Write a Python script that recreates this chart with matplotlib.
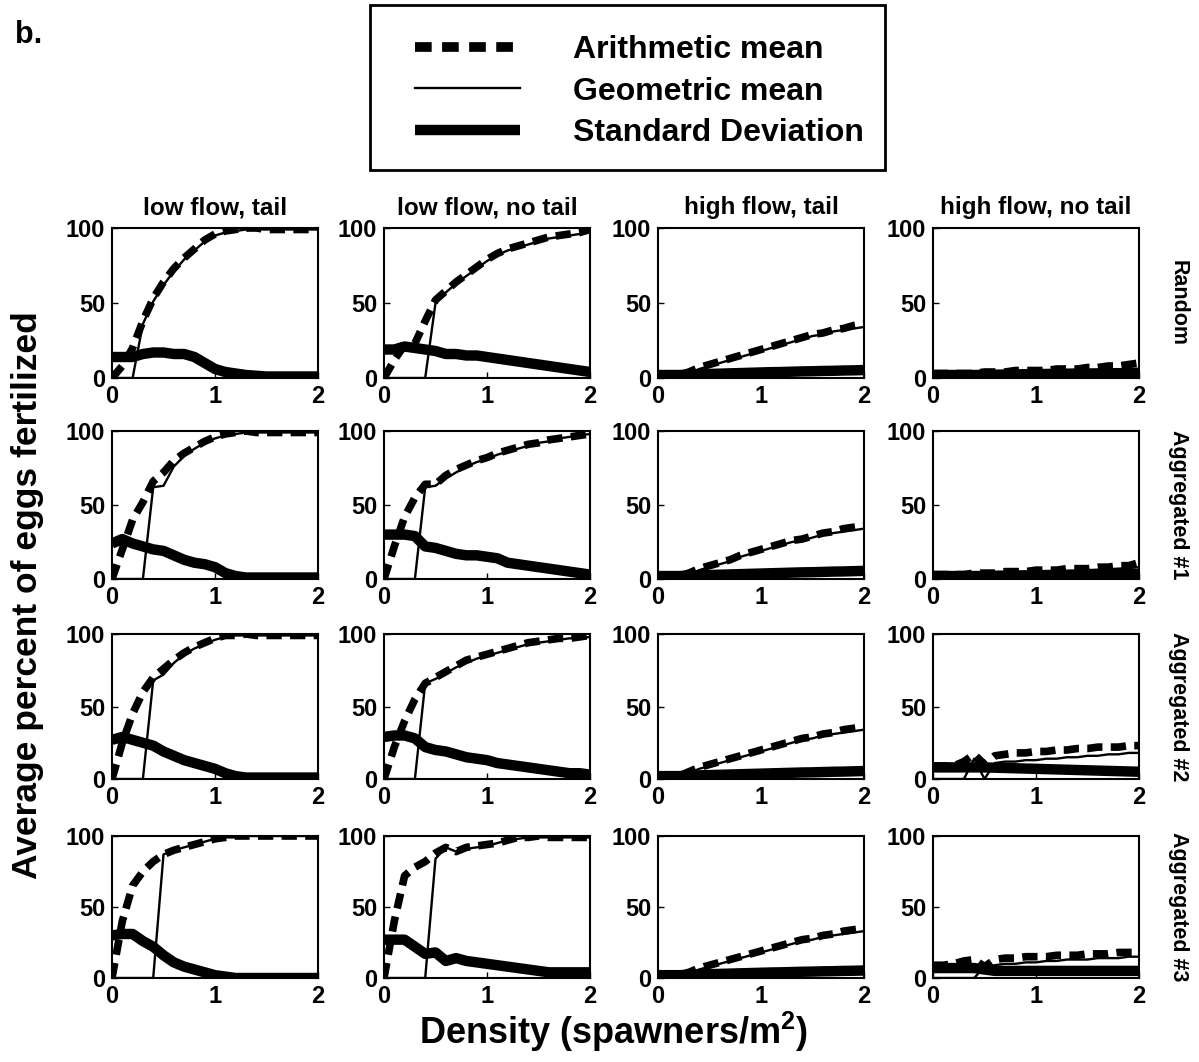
import numpy as np
import matplotlib
matplotlib.use("Agg")
import matplotlib.pyplot as plt
from matplotlib.patches import Rectangle
from matplotlib.lines import Line2D

plt.rcParams['font.family'] = ['Liberation Sans', 'DejaVu Sans']
plt.rcParams['font.weight'] = 'bold'
plt.rcParams['mathtext.fontset'] = 'custom'
plt.rcParams['mathtext.rm'] = 'Liberation Sans:bold'
plt.rcParams['mathtext.default'] = 'rm'
plt.rcParams['lines.scale_dashes'] = False

# Densidad (spawners/m2)
densidad = [0.0, 0.1, 0.2, 0.3, 0.4, 0.5, 0.6, 0.7, 0.8, 0.9, 1.0,
            1.1, 1.2, 1.3, 1.4, 1.5, 1.6, 1.7, 1.8, 1.9, 2.0]

columnas = ["low flow, tail", "low flow, no tail", "high flow, tail", "high flow, no tail"]
filas = ["Random", "Aggregated #1", "Aggregated #2", "Aggregated #3"]
etiquetas = ["Arithmetic mean", "Geometric mean", "Standard Deviation"]

# Random
r_c1_am = [0, 8, 20, 38, 53, 64, 73, 80, 86, 92, 96, 98, 99, 100, 100, 99, 99, 99, 99, 99, 99]
r_c1_gm = [0, 0, 0, 36, 51, 62, 71, 79, 85, 91, 95, 97, 98, 99, 99, 99, 99, 99, 99, 99, 99]
r_c1_sd = [14, 14, 14, 16, 17, 17, 16, 16, 14, 10, 6, 4, 3, 2, 1.5, 1, 1, 1, 1, 1, 1]
r_c2_am = [0, 12, 22, 23, 38, 52, 58, 64, 69, 74, 79, 83, 86, 88, 90, 92, 94, 95, 96, 97, 99]
r_c2_gm = [0, 0, 0, 0, 0, 50, 57, 63, 68, 73, 78, 82, 85, 87, 89, 91, 93, 94, 95, 96, 98]
r_c2_sd = [19, 19, 21, 20, 19, 18, 16, 16, 15, 15, 14, 13, 12, 11, 10, 9, 8, 7, 6, 5, 4]
r_c3_am = [2, 2, 2, 4, 7, 9, 11, 13, 15, 17, 19, 21, 23, 25, 27, 29, 30, 32, 33, 35, 36]
r_c3_gm = [1, 1, 1, 3, 6, 8, 10, 12, 14, 16, 18, 20, 22, 24, 26, 28, 29, 31, 32, 33, 34]
r_c3_sd = [2, 2, 2, 2.2, 2.5, 2.7, 2.9, 3.1, 3.3, 3.5, 3.7, 3.9, 4.0, 4.2, 4.4, 4.5, 4.7, 4.8, 5.0, 5.1, 5.3]
r_c4_am = [3, 3, 3, 3, 3, 4, 4, 4, 5, 5, 5, 5, 6, 6, 6, 7, 7, 8, 8, 9, 10]
r_c4_gm = [2, 2, 2, 2, 2, 2.5, 2.8, 3, 3.2, 3.5, 3.7, 4, 4.2, 4.5, 4.7, 5, 5.2, 5.5, 5.7, 6, 6]
r_c4_sd = [2, 2, 2, 2, 2, 2.1, 2.2, 2.3, 2.4, 2.5, 2.6, 2.7, 2.8, 2.9, 3.0, 3.0, 3.1, 3.2, 3.2, 3.3, 3.4]

# Aggregated #1
a1_c1_am = [0, 20, 40, 52, 66, 72, 80, 85, 89, 93, 96, 98, 99, 100, 99, 99, 99, 99, 99, 99, 99]
a1_c1_gm = [0, 0, 0, 0, 62, 63, 76, 83, 88, 92, 95, 97, 98, 99, 99, 99, 99, 99, 99, 99, 99]
a1_c1_sd = [24, 27, 24, 22, 20, 19, 16, 13, 11, 10, 8, 4, 2, 1, 1, 1, 1, 1, 1, 1, 1]
a1_c2_am = [0, 22, 42, 55, 64, 64, 70, 74, 77, 80, 82, 85, 87, 89, 91, 92, 94, 95, 96, 97, 98]
a1_c2_gm = [0, 0, 0, 0, 62, 63, 68, 72, 76, 79, 81, 84, 86, 88, 90, 92, 93, 95, 96, 97, 98]
a1_c2_sd = [30, 30, 30, 29, 22, 21, 19, 17, 16, 16, 15, 14, 11, 10, 9, 8, 7, 6, 5, 4, 3]
a1_c3_am = [2, 2, 2, 4, 7, 9, 11, 13, 16, 18, 20, 22, 24, 26, 27, 29, 31, 32, 34, 35, 36]
a1_c3_gm = [1, 1, 1, 3, 6, 8, 10, 12, 15, 17, 19, 21, 23, 25, 26, 28, 30, 31, 32, 33, 34]
a1_c3_sd = [2, 2, 2, 2.2, 2.5, 2.7, 2.9, 3.1, 3.3, 3.5, 3.7, 3.9, 4.1, 4.3, 4.5, 4.6, 4.8, 5.0, 5.1, 5.3, 5.5]
a1_c4_am = [3, 3, 3, 3, 4, 4, 4, 5, 5, 5, 6, 6, 6, 7, 7, 7, 8, 8, 9, 9, 11]
a1_c4_gm = [2, 2, 2, 2, 2.5, 2.8, 3, 3.3, 3.6, 4, 4.3, 4.6, 5, 5.3, 5.6, 6, 6.3, 6.6, 7, 7.3, 8]
a1_c4_sd = [2, 2, 2, 2, 2, 2.1, 2.2, 2.3, 2.4, 2.5, 2.6, 2.7, 2.8, 2.9, 3.0, 3.0, 3.1, 3.2, 3.2, 3.3, 3.4]

# Aggregated #2
a2_c1_am = [0, 25, 45, 60, 70, 76, 82, 87, 91, 94, 97, 99, 99, 100, 99, 99, 99, 99, 99, 99, 99]
a2_c1_gm = [0, 0, 0, 0, 68, 72, 80, 86, 90, 93, 96, 98, 99, 99, 99, 99, 99, 99, 99, 99, 99]
a2_c1_sd = [27, 29, 27, 25, 23, 19, 16, 13, 11, 9, 7, 4, 2, 1, 1, 1, 1, 1, 1, 1, 1]
a2_c2_am = [0, 22, 40, 55, 66, 70, 74, 78, 82, 84, 86, 88, 90, 92, 94, 95, 96, 97, 97, 98, 99]
a2_c2_gm = [0, 0, 0, 0, 66, 69, 73, 77, 80, 83, 85, 87, 89, 91, 93, 94, 95, 96, 97, 97, 98]
a2_c2_sd = [29, 30, 30, 28, 22, 20, 19, 17, 15, 14, 13, 11, 10, 9, 8, 7, 6, 5, 4, 4, 3]
a2_c3_am = [2, 2, 2, 5, 8, 10, 12, 14, 16, 18, 20, 22, 24, 26, 28, 29, 31, 32, 34, 35, 36]
a2_c3_gm = [1, 1, 1, 4, 7, 9, 11, 13, 15, 17, 19, 21, 23, 25, 27, 28, 30, 31, 32, 33, 34]
a2_c3_sd = [2, 2, 2, 2.2, 2.5, 2.7, 2.9, 3.1, 3.3, 3.5, 3.7, 3.9, 4.1, 4.3, 4.5, 4.6, 4.8, 5.0, 5.1, 5.3, 5.5]
a2_c4_am = [9, 9, 9, 12, 17, 10, 16, 17, 18, 18, 19, 19, 20, 20, 21, 21, 22, 22, 22, 23, 23]
a2_c4_gm = [0, 0, 0, 0, 14, 0, 11, 12, 12, 13, 13, 14, 14, 15, 15, 16, 16, 17, 17, 18, 18]
a2_c4_sd = [8, 8, 8, 8, 8, 8, 7.8, 7.6, 7.4, 7.2, 7, 6.8, 6.6, 6.4, 6.2, 6, 5.8, 5.6, 5.4, 5.2, 5]

# Aggregated #3
a3_c1_am = [0, 40, 65, 75, 82, 87, 90, 92, 94, 96, 98, 99, 100, 100, 100, 100, 100, 100, 100, 100, 100]
a3_c1_gm = [0, 0, 0, 0, 0, 87, 90, 92, 94, 96, 98, 99, 99, 100, 100, 100, 100, 100, 100, 100, 100]
a3_c1_sd = [30, 31, 31, 26, 22, 16, 11, 8, 6, 4, 2, 1, 0, 0, 0, 0, 0, 0, 0, 0, 0]
a3_c2_am = [0, 40, 72, 78, 82, 88, 92, 89, 92, 93, 94, 95, 97, 99, 99, 100, 99, 99, 99, 99, 99]
a3_c2_gm = [0, 0, 0, 0, 0, 84, 92, 89, 91, 92, 93, 95, 97, 98, 99, 99, 99, 99, 99, 99, 99]
a3_c2_sd = [27, 27, 27, 22, 17, 18, 12, 14, 12, 11, 10, 9, 8, 7, 6, 5, 4, 4, 4, 4, 4]
a3_c3_am = [2, 2, 2, 4, 7, 9, 11, 13, 15, 17, 19, 21, 23, 25, 27, 28, 30, 31, 33, 34, 35]
a3_c3_gm = [1, 1, 1, 3, 6, 8, 10, 12, 14, 16, 18, 20, 22, 24, 26, 27, 29, 30, 31, 32, 33]
a3_c3_sd = [2, 2, 2, 2.2, 2.5, 2.7, 2.9, 3.1, 3.3, 3.5, 3.7, 3.9, 4.0, 4.2, 4.4, 4.5, 4.7, 4.8, 5.0, 5.1, 5.3]
a3_c4_am = [9, 9, 10, 12, 13, 8, 13, 14, 14, 15, 15, 15, 16, 16, 16, 17, 17, 17, 18, 18, 18]
a3_c4_gm = [0, 0, 0, 0, 0, 8, 9, 10, 10, 11, 11, 12, 12, 13, 13, 13, 14, 14, 14, 15, 15]
a3_c4_sd = [7, 7, 7, 7, 7, 6, 5, 5, 5, 5, 5, 5, 5, 5, 5, 5, 5, 5, 5, 5, 5]

paneles = [
    [(r_c1_am, r_c1_gm, r_c1_sd), (r_c2_am, r_c2_gm, r_c2_sd),
     (r_c3_am, r_c3_gm, r_c3_sd), (r_c4_am, r_c4_gm, r_c4_sd)],
    [(a1_c1_am, a1_c1_gm, a1_c1_sd), (a1_c2_am, a1_c2_gm, a1_c2_sd),
     (a1_c3_am, a1_c3_gm, a1_c3_sd), (a1_c4_am, a1_c4_gm, a1_c4_sd)],
    [(a2_c1_am, a2_c1_gm, a2_c1_sd), (a2_c2_am, a2_c2_gm, a2_c2_sd),
     (a2_c3_am, a2_c3_gm, a2_c3_sd), (a2_c4_am, a2_c4_gm, a2_c4_sd)],
    [(a3_c1_am, a3_c1_gm, a3_c1_sd), (a3_c2_am, a3_c2_gm, a3_c2_sd),
     (a3_c3_am, a3_c3_gm, a3_c3_sd), (a3_c4_am, a3_c4_gm, a3_c4_sd)],
]

# Tamano de la figura en pixeles
W, H = 1199, 1062
fig = plt.figure(figsize=(W / 100, H / 100), dpi=100)

# Posiciones de los paneles (pixeles)
izq = [112, 384, 658, 933]
ancho = 206
arriba = [228, 431, 634, 836]
abajo = [378, 579, 779, 978]

for i in range(4):
    for j in range(4):
        rect = [izq[j] / W, 1 - abajo[i] / H, ancho / W, (abajo[i] - arriba[i]) / H]
        ax = fig.add_axes(rect)
        am, gm, sd = paneles[i][j]
        ax.plot(densidad, am, color="black", lw=5.5, ls=(0, (11, 6)), dash_capstyle="butt")
        ax.plot(densidad, gm, color="black", lw=1.7)
        ax.plot(densidad, sd, color="black", lw=7.5, solid_capstyle="butt")
        ax.set_xlim(0, 2)
        ax.set_ylim(0, 100)
        ax.set_xticks([0, 1, 2])
        ax.set_yticks([0, 50, 100])
        ax.tick_params(direction="in", length=4, width=1, labelsize=17, pad=5)
        for s in ax.spines.values():
            s.set_linewidth(1.5)
        if i == 0:
            ax.set_title(columnas[j], fontsize=17.5, fontweight="bold", pad=10)
    fig.text(1178 / W, 1 - (arriba[i] + abajo[i]) / 2 / H, filas[i], rotation=270,
             ha="center", va="center", fontsize=15.5, fontweight="bold")

# Leyenda
fig.add_artist(Rectangle((370 / W, 1 - 170 / H), 515 / W, 165 / H, transform=fig.transFigure,
                         fill=False, edgecolor="black", lw=2))
h_am = Line2D([], [], color="black", lw=7, ls=(0, (12, 7.5)), dash_capstyle="butt")
h_gm = Line2D([], [], color="black", lw=1.7)
h_sd = Line2D([], [], color="black", lw=7.5, solid_capstyle="butt")
fig.legend([h_am, h_gm, h_sd], etiquetas,
           loc="upper left", bbox_to_anchor=(415 / W, 1 - 35 / H), frameon=False,
           borderpad=0, borderaxespad=0, handlelength=3.3, handletextpad=1.65,
           labelspacing=0.36, prop={"size": 23, "weight": "bold"})

fig.text(15 / W, 1 - 35 / H, "b.", fontsize=22, fontweight="bold", ha="left", va="center")
fig.text(28 / W, 1 - 595 / H, "Average percent of eggs fertilized", rotation=90,
         fontsize=25.5, fontweight="bold", ha="center", va="center")
fig.text(614 / W, 1 - 1032 / H, "Density (spawners/m$^{2}$)",
         fontsize=26, fontweight="bold", ha="center", va="center")

plt.savefig("out.png", dpi=100)
